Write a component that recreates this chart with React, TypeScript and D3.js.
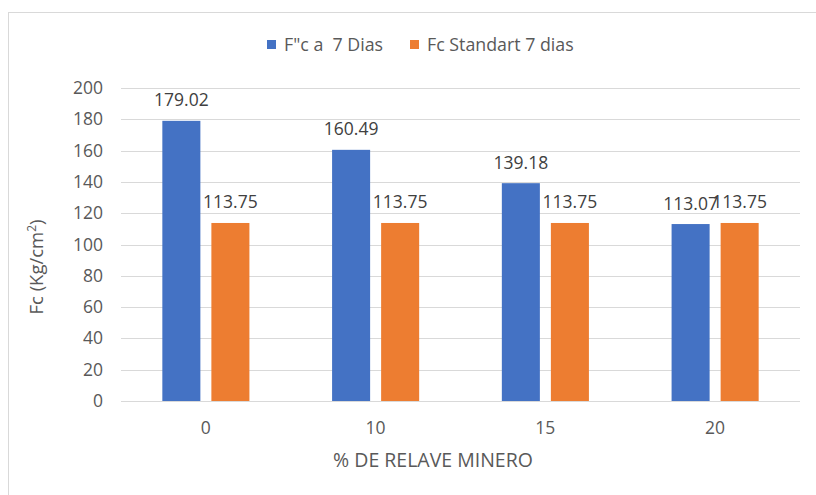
import React from "react";
import * as d3 from "d3";

const categories = ["0", "10", "15", "20"];
const seriesNames = ['F"c a  7 Dias', "Fc Standart 7 dias"];
const fc7Dias = [179.02, 160.49, 139.18, 113.07];
const fcStandart = [113.75, 113.75, 113.75, 113.75];
const yTicks = [0, 20, 40, 60, 80, 100, 120, 140, 160, 180, 200];
const colors = ["#4472C4", "#ED7D31"];

const W = 816;
const H = 495;
const FONT = "'Open Sans', 'Noto Sans', sans-serif";
const TXT = "#595959";

export default function App() {
  const y = d3.scaleLinear().domain([0, 200]).range([401, 88]);
  const x0 = d3
    .scaleBand<string>()
    .domain(categories)
    .range([121, 800])
    .paddingInner(0.487)
    .paddingOuter(0.2435);
  const x1 = d3
    .scaleBand<number>()
    .domain([0, 1])
    .range([0, x0.bandwidth()])
    .paddingInner(0.2245)
    .paddingOuter(0);
  const seriesData = [fc7Dias, fcStandart];
  const fmt = d3.format(".2f");

  return (
    <svg
      width={W}
      height={H}
      style={{ position: "absolute", left: 0, top: 0, background: "#fff" }}
      fontFamily={FONT}
    >
      <rect x={0} y={0} width={W} height={H} fill="#fff" />
      <rect x={8.5} y={12.5} width={W + 20} height={H + 20} fill="none" stroke="#D9D9D9" strokeWidth={1} />

      {/* gridlines */}
      {yTicks.map((t) => (
        <line key={t} x1={121} x2={800} y1={Math.round(y(t)) + 0.5} y2={Math.round(y(t)) + 0.5} stroke="#D9D9D9" strokeWidth={1} />
      ))}

      {/* y tick labels */}
      {yTicks.map((t) => (
        <text key={"yl" + t} x={103} y={y(t) + 6} textAnchor="end" fontSize={17.5} fill={TXT}>
          {t}
        </text>
      ))}

      {/* bars */}
      {seriesData.map((vals, si) =>
        vals.map((v, ci) => {
          const bx = (x0(categories[ci]) as number) + (x1(si) as number);
          return (
            <rect key={`b${si}-${ci}`} x={bx} y={y(v)} width={x1.bandwidth()} height={y(0) - y(v)} fill={colors[si]} />
          );
        })
      )}

      {/* value labels */}
      {seriesData.map((vals, si) =>
        vals.map((v, ci) => {
          const bx = (x0(categories[ci]) as number) + (x1(si) as number) + x1.bandwidth() / 2;
          return (
            <text key={`l${si}-${ci}`} x={bx} y={y(v) - 14.5} textAnchor="middle" fontSize={17.5} fill="#404040">
              {fmt(v)}
            </text>
          );
        })
      )}

      {/* x tick labels */}
      {categories.map((c) => (
        <text key={"xl" + c} x={(x0(c) as number) + x0.bandwidth() / 2} y={434} textAnchor="middle" fontSize={17.5} fill={TXT}>
          {c}
        </text>
      ))}

      {/* x axis title */}
      <text x={433} y={467} textAnchor="middle" fontSize={19.5} fill={TXT}>
        % DE RELAVE MINERO
      </text>

      {/* y axis title */}
      <text transform="translate(43,267) rotate(-90)" textAnchor="middle" fontSize={18.5} fill={TXT}>
        Fc (Kg/cm<tspan fontSize={12} dy={-7}>2</tspan>
        <tspan dy={7}>)</tspan>
      </text>

      {/* legend */}
      {seriesNames.map((n, i) => {
        const lx = [267, 410][i];
        return (
          <g key={"lg" + i}>
            <rect x={lx} y={40} width={9} height={9} fill={colors[i]} />
            <text x={lx + 17} y={51} fontSize={17.8} fill={TXT} style={{ whiteSpace: "pre" }}>
              {n}
            </text>
          </g>
        );
      })}
    </svg>
  );
}
